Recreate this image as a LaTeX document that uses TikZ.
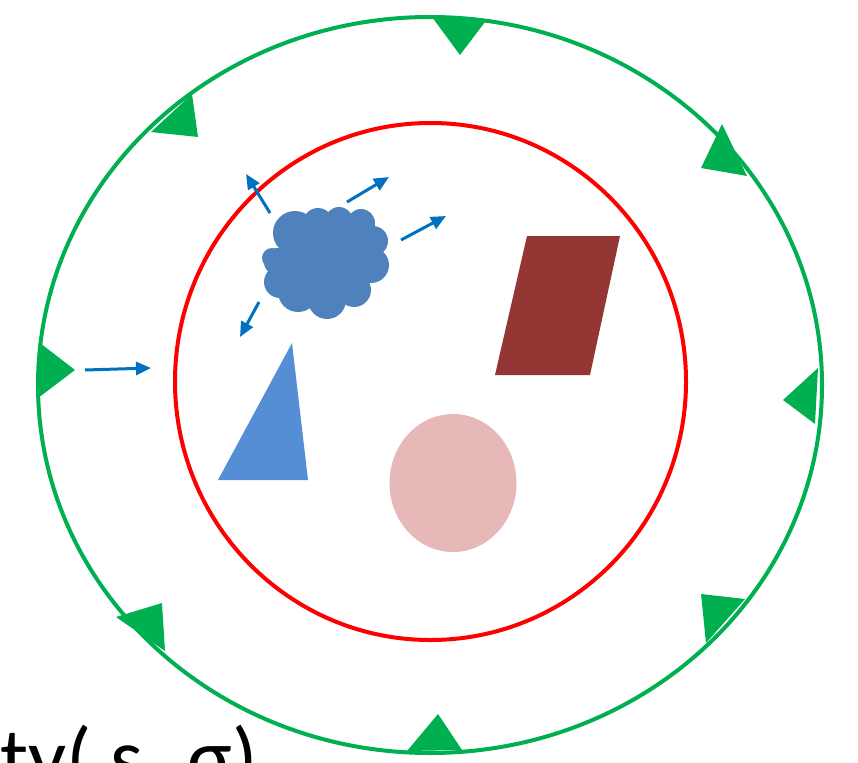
\documentclass[tikz,border=0pt]{standalone}
\usepackage{fontspec}
\setmainfont{Carlito}
\usetikzlibrary{arrows.meta}
\definecolor{cgreen}{RGB}{0,176,80}
\definecolor{cred}{RGB}{255,0,0}
\definecolor{cblue}{RGB}{0,112,192}
\definecolor{ccloud}{RGB}{79,129,189}
\definecolor{cbrown}{RGB}{148,54,52}
\definecolor{ctri}{RGB}{85,142,213}
\definecolor{cpink}{RGB}{230,185,184}
\tikzset{
  ring/.style={line width=4pt},
  gtri/.style={fill=cgreen, draw=none},
  flow/.style={draw=cblue, line width=3pt, -{Triangle[length=15pt,width=13pt]}},
}
\begin{document}
\begin{tikzpicture}[x=1pt,y=-1pt]
\useasboundingbox (0,0) rectangle (858,762);
% outer ring
\draw[ring, cgreen] (430,385) ellipse [x radius=392, y radius=368];
% inner ring
\draw[ring, cred] (430.5,381.5) ellipse [x radius=255.5, y radius=258.5];
% green triangles
\fill[gtri] (432,17) -- (485,22) -- (460,55) -- cycle;
\fill[gtri] (40,343) -- (75,370) -- (38,398) -- cycle;
\fill[gtri] (818,368) -- (783,400) -- (815,424) -- cycle;
\fill[gtri] (438,714) -- (407,751) -- (462,750) -- cycle;
\fill[gtri] (192,94) -- (198,137) -- (151,132) -- cycle;
\fill[gtri] (722,124) -- (747,176) -- (701,168) -- cycle;
\fill[gtri] (701,594) -- (745,599) -- (706,643) -- cycle;
\fill[gtri] (162,603) -- (165,651) -- (116,617) -- cycle;
% cloud
\begin{scope}[fill=ccloud]
\fill (326,262) ellipse [x radius=50, y radius=40];
\fill (272,258) circle (10);
\fill (295,233) circle (22);
\fill (318,223) circle (15);
\fill (339,221) circle (14);
\fill (361,223) circle (14);
\fill (373,241) circle (15);
\fill (371,265) circle (18);
\fill (354,290) circle (17);
\fill (327,300) circle (19);
\fill (298,292) circle (20);
\fill (280,282) circle (16);
\fill (278,262) circle (14);
\end{scope}
% blue arrows
\coordinate (a1s) at (85,370); \coordinate (a1e) at (151,368);
\coordinate (a2s) at (270,213); \coordinate (a2e) at (246,174);
\coordinate (a3s) at (347,202); \coordinate (a3e) at (389,177);
\coordinate (a4s) at (401,240); \coordinate (a4e) at (446,216);
\coordinate (a5s) at (259,302); \coordinate (a5e) at (240,337);
\draw[flow] (a1s) -- (a1e);
\draw[flow] (a2s) -- (a2e);
\draw[flow] (a3s) -- (a3e);
\draw[flow] (a4s) -- (a4e);
\draw[flow] (a5s) -- (a5e);
% shapes
\fill[cbrown] (527,236) -- (620,236) -- (590,375) -- (495,375) -- cycle;
\fill[ctri] (292,343) -- (308,480) -- (218,480) -- cycle;
\fill[cpink] (453,483) ellipse [x radius=63.5, y radius=69];
% text
\node[anchor=base west, inner sep=0pt, font=\fontsize{84}{84}\selectfont] (lbl) at (0,786) {ty( s,\hspace{4pt} σ)};
\end{tikzpicture}
\end{document}
